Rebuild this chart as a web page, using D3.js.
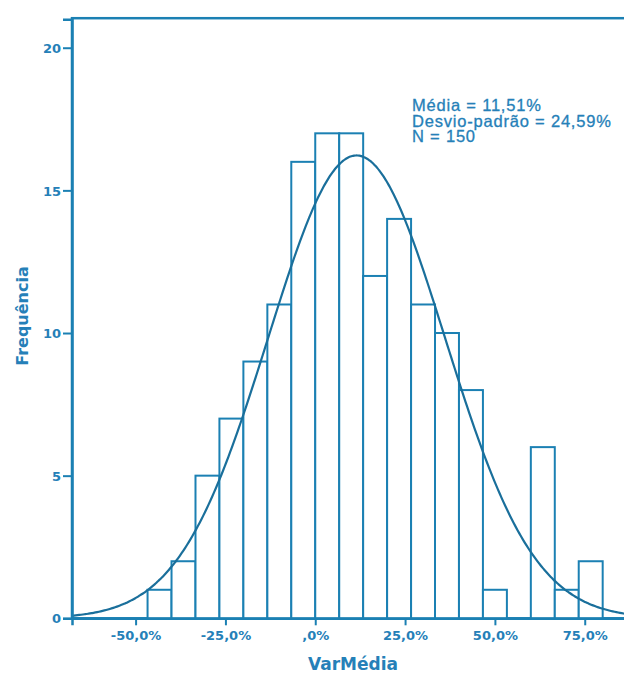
<!DOCTYPE html>
<html>
<head>
<meta charset="utf-8">
<script src="https://cdn.jsdelivr.net/npm/d3@7/dist/d3.min.js"></script>
<style>
  html, body { margin: 0; padding: 0; background: #fff; overflow: hidden; }
  svg { display: block; }
</style>
</head>
<body>
<svg id="chart" width="624" height="675"></svg>
<script>
// ---- data ----
const binStarts = [-46.67, -40, -33.33, -26.67, -20, -13.33, -6.67, 0, 6.67, 13.33, 20, 26.67, 33.33, 40, 46.67, 53.33, 60, 66.67, 73.33];
const binWidth = 6.667;
const counts = [1, 2, 5, 7, 9, 11, 16, 17, 17, 12, 14, 11, 10, 8, 1, 0, 6, 1, 2];
const xTickValues = [-50, -25, 0, 25, 50, 75];
const xTickLabels = ["-50,0%", "-25,0%", ",0%", "25,0%", "50,0%", "75,0%"];
const yTickValues = [0, 5, 10, 15, 20];
const mean = 11.51, sd = 24.59, N = 150;
const statsLines = ["Média = 11,51%", "Desvio-padrão = 24,59%", "N = 150"];
const xTitle = "VarMédia";
const yTitle = "Frequência";

// ---- layout ----
const C_LINE = "#1b80b3";
const C_CURVE = "#1a6f9b";
const C_TEXT = "#2580b8";
const svg = d3.select("#chart");
const x = d3.scaleLinear().domain([-67.7, 87.6]).range([72, 630]);
const y = d3.scaleLinear().domain([0, 21]).range([618.3, 19.2]);

// frame
svg.append("rect")
  .attr("x", x(-67.7)).attr("y", y(21) - 1)
  .attr("width", x(87.6) - x(-67.7)).attr("height", y(0) - y(21) + 1)
  .attr("fill", "none").attr("stroke", C_LINE).attr("stroke-width", 2.5);

// bars
svg.append("g").selectAll("rect").data(binStarts.map((s, i) => ({s, c: counts[i]})).filter(d => d.c > 0))
  .join("rect")
  .attr("x", d => x(d.s))
  .attr("y", d => y(d.c))
  .attr("width", d => x(d.s + binWidth) - x(d.s))
  .attr("height", d => y(0) - y(d.c))
  .attr("fill", "#fff")
  .attr("stroke", C_LINE)
  .attr("stroke-width", 2);

// normal curve
const pts = d3.range(-67.7, 87.61, 0.5).map(v => [v, N * binWidth * Math.exp(-0.5 * ((v - mean) / sd) ** 2) / (sd * Math.sqrt(2 * Math.PI))]);
svg.append("path")
  .datum(pts)
  .attr("d", d3.line().x(d => x(d[0])).y(d => y(d[1])).curve(d3.curveBasis))
  .attr("fill", "none").attr("stroke", C_CURVE).attr("stroke-width", 2.2);

// axes
const xAxis = svg.append("g").attr("transform", `translate(0,${y(0)})`)
  .call(d3.axisBottom(x).tickValues(xTickValues).tickFormat((d, i) => xTickLabels[i]).tickSize(7).tickPadding(5));
const yAxis = svg.append("g").attr("transform", `translate(${x(-67.7)},0)`)
  .call(d3.axisLeft(y).tickValues(yTickValues).tickFormat(d3.format("d")).tickSize(9).tickPadding(2));
[xAxis, yAxis].forEach(g => {
  g.select(".domain").attr("stroke", C_LINE).attr("stroke-width", 2.5);
  g.selectAll(".tick line").attr("stroke", C_LINE).attr("stroke-width", 2);
  g.selectAll(".tick text")
    .attr("fill", C_TEXT)
    .style("font-family", "'DejaVu Sans', sans-serif")
    .style("font-weight", "bold")
    .style("font-size", "13px");
});
yAxis.selectAll(".tick text").attr("dy", "0.36em");

// axis titles
svg.append("text")
  .attr("x", 353).attr("y", 670)
  .attr("text-anchor", "middle")
  .attr("fill", C_TEXT)
  .style("font-family", "'DejaVu Sans', sans-serif")
  .style("font-weight", "bold").style("font-size", "17px")
  .text(xTitle);
svg.append("text")
  .attr("transform", "translate(28,316) rotate(-90)")
  .attr("text-anchor", "middle")
  .attr("fill", C_TEXT)
  .style("font-family", "'DejaVu Sans', sans-serif")
  .style("font-weight", "bold").style("font-size", "16px")
  .text(yTitle);

// stats
svg.append("g").selectAll("text").data(statsLines).join("text")
  .attr("x", 412)
  .attr("y", (d, i) => 111 + i * 15.5)
  .attr("fill", C_TEXT)
  .attr("stroke", C_TEXT).attr("stroke-width", 0.3)
  .style("font-family", "'Liberation Sans', Arial, sans-serif")
  .style("font-size", "16.5px")
  .style("letter-spacing", "0.8px")
  .text(d => d);
</script>
</body>
</html>
